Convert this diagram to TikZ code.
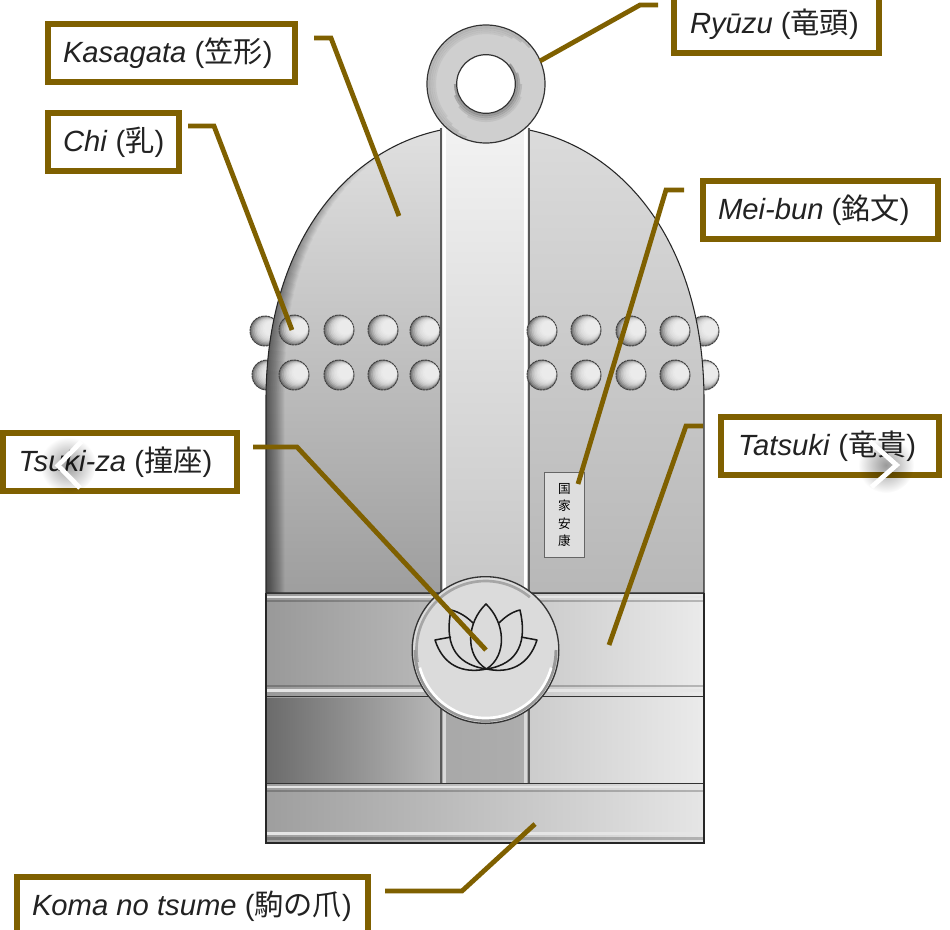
\documentclass[tikz,border=0pt]{standalone}
\usepackage{fontspec}
\setmainfont{Liberation Sans}
\newfontfamily\cjkfont{Noto Sans CJK JP}
\usetikzlibrary{fadings}
\definecolor{gold}{HTML}{7F6000}
\definecolor{inkc}{HTML}{222222}
\newlength\pxu \setlength\pxu{0.75bp}
\newcommand\lbl[3]{\makebox[#1\pxu][l]{\hspace*{#2\pxu}#3}}
\tikzfading[name=softblob, inner color=transparent!60, outer color=transparent!100]
\tikzset{
 x=0.75bp,y=-0.75bp,
 labelbox/.style={draw=gold,line width=4.5bp,fill=white,inner sep=0pt,outer sep=0pt,minimum height=43.5bp,text=inkc,font=\fontsize{22}{25}\selectfont},
 leader/.style={draw=gold,line width=3.6bp,line join=miter},
 ballnode/.style={circle,inner sep=0pt,minimum size=22.5bp,fill=black!55},
 balledge/.style={draw=black!75,line width=.7bp,dash pattern=on 2bp off .5bp},
 bandline/.style={line width=.9bp,draw=black!80},
 hilite/.style={line width=2bp,draw=white!90!black},
 lowshade/.style={line width=2.2bp,draw=black,opacity=.22},
 chev/.style={draw=white,line width=3.6bp},
 lotusline/.style={draw=black!90,line width=1.15bp,line join=round},
}
\newcommand\ballface[3]{%
  \node[ballnode] (#1) at (#2,#3) {};
  \foreach \i/\g in {1/56,2/66,3/74,4/80,5/84,6/87,7/89,8/91,9/92}
    \fill[white!\g!black] ({#2+0.72*\i},{#3-0.3*\i}) circle ({15-0.85*\i});
  \draw[balledge] (#1.center) circle (15);
}
\newcommand\bellpath{(266,593) -- (266,400) .. controls (266,245) and (345,150) .. (441,130) -- (529,130) .. controls (625,150) and (704,245) .. (704,400) -- (704,593) -- cycle}
\begin{document}
\begin{tikzpicture}
\useasboundingbox (0,0) rectangle (950,930);
\fill[white] (0,0) rectangle (950,930);
% balls behind the body
\ballface{ba}{265}{331}\ballface{bb}{267}{375}\ballface{bc}{704}{331}\ballface{bd}{704}{375}
% body
\begin{scope}
\clip \bellpath;
\shade[bottom color=black!38,top color=black!12] (266,125) rectangle (441,593);
\shade[bottom color=black!28,top color=black!14] (529,125) rectangle (704,593);
\foreach \w in {2,3,...,28}{
  \pgfmathsetmacro\dashlen{380-7.6*\w}
  \draw[line width=\w bp,black,opacity=.022,dash pattern=on \dashlen bp off 2000bp]
     (266,593) -- (266,400) .. controls (266,245) and (345,150) .. (441,130);
}
\end{scope}
\draw[line width=.8bp,black!85] \bellpath;
% central strip
\shade[top color=black!5,bottom color=black!22] (441,125) rectangle (529,593);
\foreach \xa/\xb in {441/444.5,529/525.5}{
 \draw[line width=1.6bp,black!65] (\xa,128) -- (\xa,593);
 \draw[line width=2.4bp,white] (\xb,128) -- (\xb,593);
}
% balls in front
\ballface{ca}{294}{330}\ballface{cb}{339}{330}\ballface{cc}{383}{330}\ballface{cd}{425}{331}
\ballface{ce}{294}{375}\ballface{cf}{339}{375}\ballface{cg}{383}{375}\ballface{ch}{425}{375}
\ballface{da}{542}{331}\ballface{db}{586}{330}\ballface{dc}{631}{331}\ballface{dd}{675}{331}
\ballface{de}{542}{375}\ballface{df}{586}{375}\ballface{dg}{631}{375}\ballface{dh}{675}{375}
% inscription plate
\node[draw=black!60,fill=black!13,line width=.8bp,minimum width=30bp,minimum height=64bp,inner sep=0pt,align=center,
      font=\cjkfont\fontsize{9.5}{12.9}\selectfont] (plate) at (564.5,515) {国\\家\\安\\康};
% lower panels
\shade[left color=black!58,right color=black!28] (266,697) rectangle (441,783);
\shade[left color=black!34,right color=black!32] (441,697) rectangle (529,783);
\shade[left color=black!20,right color=black!8] (529,697) rectangle (704,783);
\foreach \xa/\xb in {441/444.5,529/525.5}{
 \draw[line width=1.6bp,black!65] (\xa,697) -- (\xa,783);
 \draw[line width=2bp,white!85!black] (\xb,697) -- (\xb,783);
}
% Tatsuki band
\shade[left color=black!40,right color=black!8] (266,593) rectangle (704,697);
\draw[hilite] (266,597) -- (704,597);
\draw[lowshade] (266,601) -- (704,601);
\draw[lowshade] (266,686) -- (704,686);
\draw[hilite] (266,690.5) -- (704,690.5);
\draw[bandline] (266,593.5) -- (704,593.5);
\draw[bandline] (266,696.5) -- (704,696.5);
% Koma no tsume band
\shade[left color=black!38,right color=black!10] (266,783) rectangle (704,843);
\draw[hilite] (266,787) -- (704,787);
\draw[lowshade] (266,791) -- (704,791);
\draw[hilite] (266,833.5) -- (704,833.5);
\draw[lowshade] (266,838.5) -- (704,838.5);
\draw[bandline] (266,783.5) -- (704,783.5);
\draw[line width=.9bp,black!85] (266,593) -- (266,843) -- (704,843) -- (704,593);
\draw[line width=1.2bp,black!85] (427,843.5) -- (574,843.5);
% Tsuki-za
\node[circle,draw=black!80,fill=white!86!black,line width=1bp,minimum size=110bp,inner sep=0pt] (za) at (485.5,650) {};
\draw[line width=2bp,black!35] (485.5,650) ++(-190:69) arc (-190:-50:69);
\draw[line width=2.2bp,black!40] (485.5,650) ++(0:70.5) arc (0:180:70.5);
\draw[line width=2bp,white] (485.5,650) ++(15:68) arc (15:165:68);
\coordinate (lb) at (486.5,669);
\draw[lotusline] (lb) .. controls (464,655) and (467,622) .. (486,604) .. controls (505,622) and (508,655) .. (lb);
\draw[lotusline] (lb) .. controls (452,664) and (445,640) .. (451,610) .. controls (460,612) and (468,618) .. (473,623);
\draw[lotusline] (lb) .. controls (520,664) and (527,640) .. (520,610) .. controls (511,612) and (504,618) .. (499,623);
\draw[lotusline] (lb) .. controls (462,674) and (443,665) .. (435,640) .. controls (440,639) and (446,638) .. (451,637);
\draw[lotusline] (lb) .. controls (510,674) and (529,665) .. (537,640) .. controls (532,639) and (526,638) .. (521,637);
% Ryuzu
\node[circle,draw=black!80,fill=black!19,line width=.9bp,minimum size=88.5bp,inner sep=0pt] (ryu) at (486,84) {};
\foreach \r/\o/\a/\b in {57/.12/-40/-250,55/.09/-50/-240,53/.07/-60/-230,51/.05/-70/-220}
  \draw[line width=1.6bp,black,opacity=\o] (486,84) ++(\a:\r) arc (\a:\b:\r);
\foreach \r/\o/\a/\b in {31/.26/-40/180,33/.18/-20/160,35/.11/0/140,37/.06/20/120}
  \draw[line width=1.6bp,black,opacity=\o] (486,84) ++(\a:\r) arc (\a:\b:\r);
\node[circle,draw=black!80,fill=white,line width=.9bp,minimum size=44bp,inner sep=0pt] (hole) at (486,84) {};
% label boxes
\node[labelbox,anchor=west] (kas) at (48,53) {\lbl{247}{15}{\textit{Kasagata} ({\cjkfont 笠形})}};
\node[labelbox,anchor=west] (chi) at (48,142) {\lbl{131}{15}{\textit{Chi} ({\cjkfont 乳})}};
\node[labelbox,anchor=west] (ryz) at (674,24) {\lbl{205}{16}{\textit{Ryūzu} ({\cjkfont 竜頭})}};
\node[labelbox,anchor=west] (mei) at (703,210) {\lbl{235}{15}{\textit{Mei-bun} ({\cjkfont 銘文})}};
\node[labelbox,anchor=west] (tat) at (721,446) {\lbl{218}{17}{\textit{Tatsuki} ({\cjkfont 竜貴})}};
\node[labelbox,anchor=west] (tsu) at (2.5,462) {\lbl{234.5}{16}{\textit{Tsuki-za} ({\cjkfont 撞座})}};
\node[labelbox,anchor=west] (kom) at (17,906) {\lbl{351}{15}{\textit{Koma no tsume} ({\cjkfont 駒の爪})}};
% leaders
\coordinate (kasS) at (314,38); \coordinate (kasE) at (399,216);
\coordinate (chiS) at (188,126); \coordinate (chiE) at (292,330);
\coordinate (ryzS) at (658,5); \coordinate (ryzE) at (540,61);
\coordinate (meiS) at (684,190); \coordinate (meiE) at (578,484);
\coordinate (tatS) at (703,426); \coordinate (tatE) at (609,645);
\coordinate (tsuS) at (253,447); \coordinate (tsuE) at (486,650);
\coordinate (komS) at (385,891); \coordinate (komE) at (535,824);
\draw[leader] (kasS) -- (331,38) -- (kasE);
\draw[leader] (chiS) -- (214,126) -- (chiE);
\draw[leader] (ryzS) -- (640,5) -- (ryzE);
\draw[leader] (meiS) -- (666,190) -- (meiE);
\draw[leader] (tatS) -- (686,426) -- (tatE);
\draw[leader] (tsuS) -- (297,447) -- (tsuE);
\draw[leader] (komS) -- (462,891) -- (komE);
% carousel chevrons
\fill[black,path fading=softblob] (68,465) circle (28);
\fill[black,path fading=softblob] (886,465) circle (28);
\draw[chev] (81.5,441.5) -- (58,465.5) -- (80,488);
\draw[chev] (870,441.5) -- (896.5,465) -- (871.5,487);
\end{tikzpicture}
\end{document}
